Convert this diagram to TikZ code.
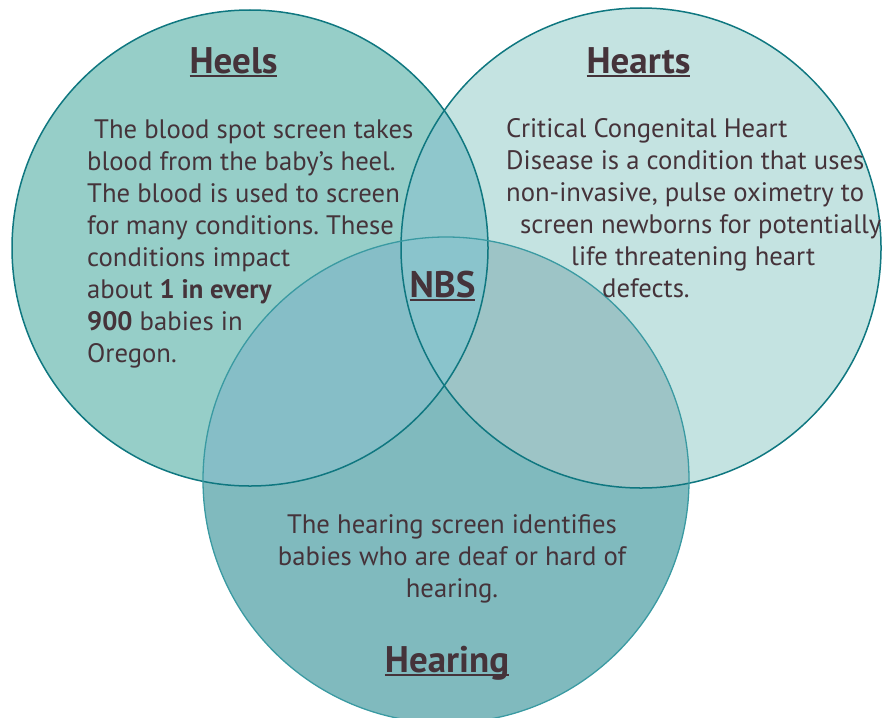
\documentclass[tikz,border=0pt]{standalone}
\usepackage{fontspec}
\setmainfont{PT Sans}
\frenchspacing
\definecolor{txtc}{HTML}{45333A}
\definecolor{heelsf}{HTML}{96CEC8}
\definecolor{heartsf}{HTML}{C4E3E1}
\definecolor{hearingf}{HTML}{80BABE}
\definecolor{heheaf}{HTML}{8FC7CC}
\definecolor{hehrf}{HTML}{86BEC7}
\definecolor{hahrf}{HTML}{9DC4C6}
\definecolor{allf}{HTML}{8AC4CC}
\definecolor{darkline}{HTML}{0F7780}
\definecolor{midline}{HTML}{3A9AA2}
\newcommand\myul[1]{\leavevmode\setbox0\hbox{#1}\rlap{\rule[-4pt]{\wd0}{2.2pt}}\box0}
\begin{document}
\begin{tikzpicture}[x=1pt,y=-1pt,
  body/.style={font=\fontsize{26.7}{32}\selectfont\frenchspacing, text=txtc, inner sep=0pt, anchor=base west},
  bodyc/.style={font=\fontsize{26.7}{32}\selectfont\frenchspacing, text=txtc, inner sep=0pt, anchor=base},
  ttl/.style={font=\fontsize{37}{42}\selectfont\bfseries, text=txtc, inner sep=0pt, anchor=base}]
\useasboundingbox (0,0) rectangle (882,717);
\def\heels{(250,248) circle (238pt)}
\def\hearts{(641,248) circle (240pt)}
\def\hearing{(446,480) circle (243pt)}
% fills
\fill[heelsf] \heels;
\fill[heartsf] \hearts;
\fill[hearingf] \hearing;
\begin{scope}
  \clip \heels;
  \fill[heheaf] \hearts;
  \fill[hehrf] \hearing;
\end{scope}
\begin{scope}
  \clip \hearts;
  \fill[hahrf] \hearing;
\end{scope}
\begin{scope}
  \clip \heels; \clip \hearts;
  \fill[allf] \hearing;
\end{scope}
% outlines
\draw[darkline, line width=1.5pt] \heels;
\draw[darkline, line width=1.5pt] \hearts;
\draw[midline, line width=1.3pt] \hearing;
% titles
\node[ttl] (heelsT) at (233.5,73) {\myul{Heels}};
\node[ttl] (heartsT) at (638.5,73) {\myul{Hearts}};
\node[ttl] (hearingT) at (447,672) {\myul{Hearing}};
\node[ttl] (nbsT) at (442.5,297) {\myul{NBS}};
% heels text
\node[body] (l1) at (94,138) {The blood spot screen takes};
\node[body] (l2) at (87,170) {blood from the baby’s heel.};
\node[body] (l3) at (87,202) {The blood is used to screen};
\node[body] (l4) at (87,234) {for many conditions. These};
\node[body] (l5) at (87,266) {conditions impact};
\node[body] (l6) at (87,298) {about \textbf{1 in every}};
\node[body] (l7) at (87,330) {\textbf{900} babies in};
\node[body] (l8) at (87,362) {Oregon.};
% hearts text
\node[body] (r1) at (506,137) {Critical Congenital Heart};
\node[body] (r2) at (506,169) {Disease is a condition that uses};
\node[body] (r3) at (506,201) {non-invasive, pulse oximetry to};
\node[body] (r4) at (520,233) {screen newborns for potentially};
\node[body] (r5) at (571,265) {life threatening heart};
\node[body] (r6) at (602,297) {defects.};
% hearing text
\node[bodyc] (b1) at (452,533) {The hearing screen identifies};
\node[bodyc] (b2) at (452,565) {babies who are deaf or hard of};
\node[bodyc] (b3) at (452,597) {hearing.};
\end{tikzpicture}
\end{document}
